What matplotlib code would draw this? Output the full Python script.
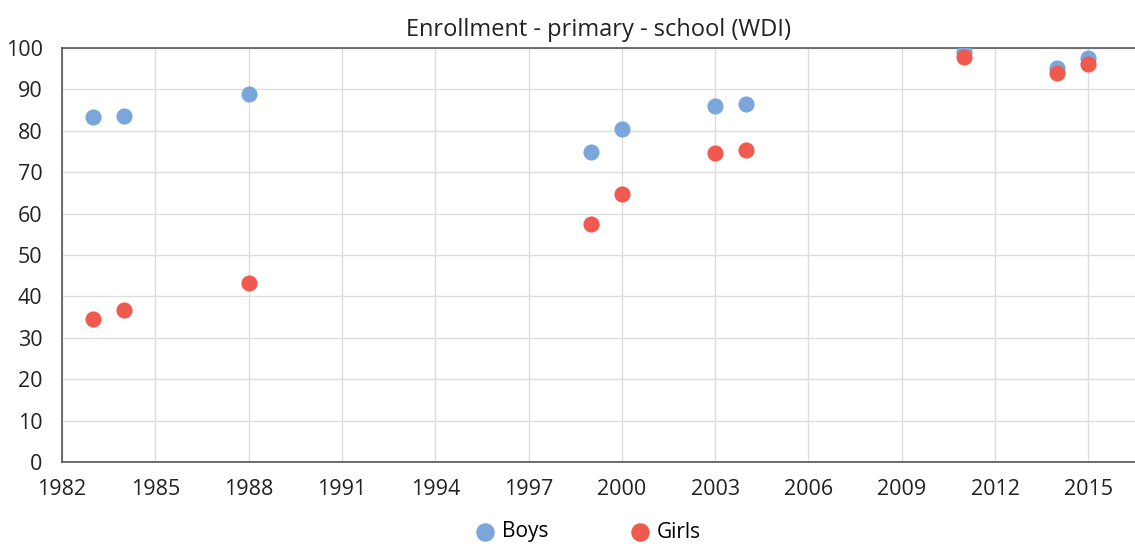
import matplotlib
matplotlib.use("Agg")
import matplotlib.pyplot as plt

# Enrollment data
years_boys = [1983, 1984, 1988, 1999, 2000, 2003, 2004, 2011, 2014, 2015]
boys = [83.3, 83.6, 89.0, 74.9, 80.4, 86.0, 86.5, 99.0, 95.2, 97.6]
years_girls = [1983, 1984, 1988, 1999, 2000, 2003, 2004, 2011, 2014, 2015]
girls = [34.5, 36.7, 43.2, 57.5, 64.7, 74.6, 75.4, 97.8, 94.0, 96.1]

x_ticks = list(range(1982, 2016, 3))
y_ticks = list(range(0, 101, 10))

plt.rcParams['font.family'] = ['Open Sans', 'DejaVu Sans']

fig = plt.figure(figsize=(11.35, 5.47), dpi=100)
ax = fig.add_axes([62 / 1135, 85 / 547, 1 - 62 / 1135, 414 / 547])

ax.scatter(years_boys, boys, s=135, color='#7BA6DB', label='Boys', zorder=3, linewidths=0)
ax.scatter(years_girls, girls, s=135, color='#F05A4E', label='Girls', zorder=4, linewidths=0)

ax.set_xlim(1982, 2016.5)
ax.set_ylim(0, 100)
ax.set_xticks(x_ticks)
ax.set_yticks(y_ticks)
ax.tick_params(axis='both', length=0, labelsize=15.5, colors='#222222')
ax.tick_params(axis='x', pad=12)
ax.tick_params(axis='y', pad=14)
ax.grid(True, color='#dddddd', linewidth=1)
ax.set_axisbelow(True)

for side in ['left', 'bottom', 'top']:
    ax.spines[side].set_color('#555555')
    ax.spines[side].set_linewidth(1.2)
ax.spines['right'].set_visible(False)

ax.set_title('Enrollment - primary - school (WDI)', fontsize=17, color='#222222', pad=9)

fig.legend(*ax.get_legend_handles_labels(), loc='center', bbox_to_anchor=(589 / 1135, 15 / 547),
           ncol=2, frameon=False, fontsize=15, handlelength=0.8, handletextpad=0.4,
           columnspacing=4.0, markerscale=1.15)

fig.savefig('out.png', dpi=100)
